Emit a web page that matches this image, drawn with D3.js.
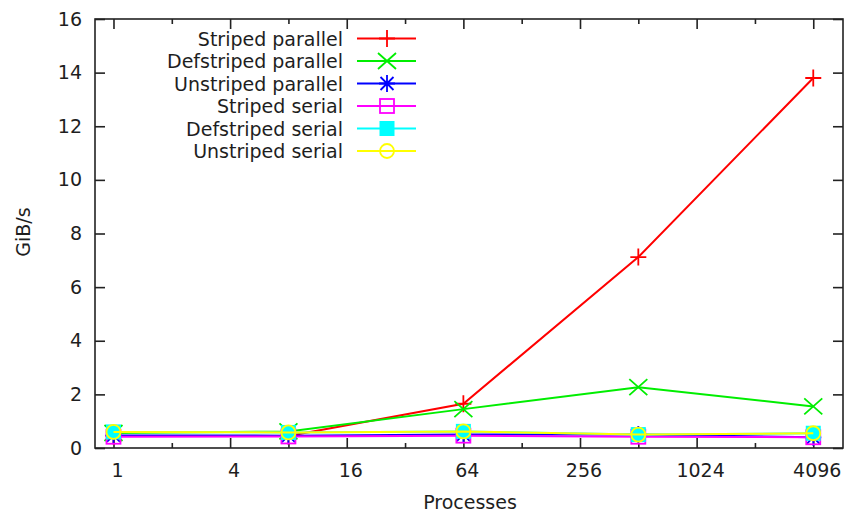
<!DOCTYPE html>
<html>
<head>
<meta charset="utf-8">
<script src="https://cdn.jsdelivr.net/npm/d3@7"></script>
<style>
  body { margin: 0; background: #fff; }
  text { font-family: "DejaVu Sans", sans-serif; fill: #1e1e1e; }
</style>
</head>
<body>
<svg id="chart" width="846" height="515"></svg>
<script>
// Process counts (x) and measured throughput in GiB/s for each configuration
const processes = [1, 8, 64, 512, 4096];
const stripedParallel   = [0.45, 0.45, 1.65, 7.12, 13.8];
const defstripedParallel = [0.56, 0.62, 1.45, 2.27, 1.55];
const unstripedParallel = [0.47, 0.46, 0.50, 0.50, 0.40];
const stripedSerial     = [0.42, 0.43, 0.46, 0.42, 0.40];
const defstripedSerial  = [0.60, 0.58, 0.62, 0.50, 0.55];
const unstripedSerial   = [0.60, 0.58, 0.62, 0.50, 0.55];

const seriesNames  = ["Striped parallel", "Defstriped parallel", "Unstriped parallel",
                      "Striped serial", "Defstriped serial", "Unstriped serial"];
const seriesValues = [stripedParallel, defstripedParallel, unstripedParallel,
                      stripedSerial, defstripedSerial, unstripedSerial];
const seriesColors = ["#ff0000", "#00ee00", "#0000ff", "#ff00ff", "#00ffff", "#ffff00"];
const seriesMarks  = ["plus", "cross", "star", "square", "filledSquare", "circle"];

const xTickValues = [1, 2, 4, 8, 16, 32, 64, 128, 256, 512, 1024, 2048, 4096];
const xTickLabels = [1, 4, 16, 64, 256, 1024, 4096];
const yTickValues = [0, 2, 4, 6, 8, 10, 12, 14, 16];

const xLabel = "Processes";
const yLabel = "GiB/s";

const svg = d3.select("#chart");
const plotL = 95, plotR = 843, plotT = 19, plotB = 448;

const x = d3.scaleLog().base(2)
  .domain([Math.pow(2, -0.317), Math.pow(2, 12.51)])
  .range([plotL, plotR]);
const y = d3.scaleLinear().domain([0, 16]).range([plotB, plotT]);

const axisColor = "#222";

// Axes with inward ticks; the x axis has long ticks at labelled powers of 4
const isMajor = v => xTickLabels.includes(v);
const xBottom = svg.append("g").attr("transform", `translate(0,${plotB})`)
  .call(d3.axisBottom(x).tickValues(xTickValues).tickFormat("").tickSize(0));
xBottom.select(".domain").remove();
xBottom.selectAll(".tick line")
  .attr("y2", d => isMajor(d) ? -10 : -5)
  .attr("stroke", axisColor).attr("stroke-width", 1.6);

const xTop = svg.append("g").attr("transform", `translate(0,${plotT})`)
  .call(d3.axisTop(x).tickValues(xTickValues).tickFormat("").tickSize(0));
xTop.select(".domain").remove();
xTop.selectAll(".tick line")
  .attr("y2", d => isMajor(d) ? 10 : 5)
  .attr("stroke", axisColor).attr("stroke-width", 1.6);

const yLeft = svg.append("g").attr("transform", `translate(${plotL},0)`)
  .call(d3.axisLeft(y).tickValues(yTickValues).tickSize(-10).tickPadding(13));
yLeft.select(".domain").remove();
yLeft.selectAll(".tick line").attr("stroke", axisColor).attr("stroke-width", 1.6);
yLeft.selectAll(".tick text")
  .style("font-family", "DejaVu Sans, sans-serif").style("font-size", "19px")
  .attr("fill", "#1e1e1e");

const yRight = svg.append("g").attr("transform", `translate(${plotR},0)`)
  .call(d3.axisRight(y).tickValues(yTickValues).tickFormat("").tickSize(-10));
yRight.select(".domain").remove();
yRight.selectAll(".tick line").attr("stroke", axisColor).attr("stroke-width", 1.6);

// x tick labels
svg.append("g").selectAll("text").data(xTickLabels).join("text")
  .attr("x", d => x(d) + 4).attr("y", plotB + 29)
  .attr("text-anchor", "middle").style("font-size", "19px")
  .text(d => d);

// Frame
svg.append("rect").attr("x", plotL).attr("y", plotT)
  .attr("width", plotR - plotL).attr("height", plotB - plotT)
  .attr("fill", "none").attr("stroke", axisColor).attr("stroke-width", 1.6);

// Axis titles
svg.append("text").attr("x", 470).attr("y", 509)
  .attr("text-anchor", "middle").style("font-size", "19px").text(xLabel);
svg.append("text").attr("transform", "translate(30,232) rotate(-90)")
  .attr("text-anchor", "middle").style("font-size", "19px").text(yLabel);

// Point marker shapes
function drawMark(g, type, color) {
  const sw = 1.8;
  if (type === "plus") {
    g.append("path").attr("d", "M-8,0H8M0,-8.5V8.5")
      .attr("stroke", color).attr("stroke-width", sw).attr("fill", "none");
  } else if (type === "cross") {
    g.append("path").attr("d", "M-9,-8L9,8M-9,8L9,-8")
      .attr("stroke", color).attr("stroke-width", sw).attr("fill", "none");
  } else if (type === "star") {
    g.append("path").attr("d", "M-8,0H8M0,-8.5V8.5M-6.5,-6.5L6.5,6.5M-6.5,6.5L6.5,-6.5")
      .attr("stroke", color).attr("stroke-width", sw).attr("fill", "none");
  } else if (type === "square") {
    g.append("rect").attr("x", -7).attr("y", -7).attr("width", 14).attr("height", 14)
      .attr("stroke", color).attr("stroke-width", sw).attr("fill", "none");
  } else if (type === "filledSquare") {
    g.append("rect").attr("x", -7.5).attr("y", -7.5).attr("width", 15).attr("height", 15)
      .attr("fill", color);
  } else if (type === "circle") {
    g.append("circle").attr("r", 7)
      .attr("stroke", color).attr("stroke-width", sw).attr("fill", "none");
  }
}

const line = d3.line().x(d => x(d[0])).y(d => y(d[1]));

seriesNames.forEach((name, i) => {
  const pts = processes.map((p, j) => [p, seriesValues[i][j]]);
  const g = svg.append("g");
  g.append("path").datum(pts).attr("d", line)
    .attr("fill", "none").attr("stroke", seriesColors[i]).attr("stroke-width", 2);
  pts.forEach(p => {
    drawMark(g.append("g").attr("transform", `translate(${x(p[0])},${y(p[1])})`),
      seriesMarks[i], seriesColors[i]);
  });

  // Legend entry
  const ly = 38.5 + i * 22.5;
  const lg = svg.append("g");
  lg.append("text").attr("x", 343).attr("y", ly + 7)
    .attr("text-anchor", "end").style("font-size", "19px").text(name);
  lg.append("line").attr("x1", 357).attr("x2", 416).attr("y1", ly).attr("y2", ly)
    .attr("stroke", seriesColors[i]).attr("stroke-width", 2);
  drawMark(lg.append("g").attr("transform", `translate(387,${ly})`), seriesMarks[i], seriesColors[i]);
});
</script>
</body>
</html>
